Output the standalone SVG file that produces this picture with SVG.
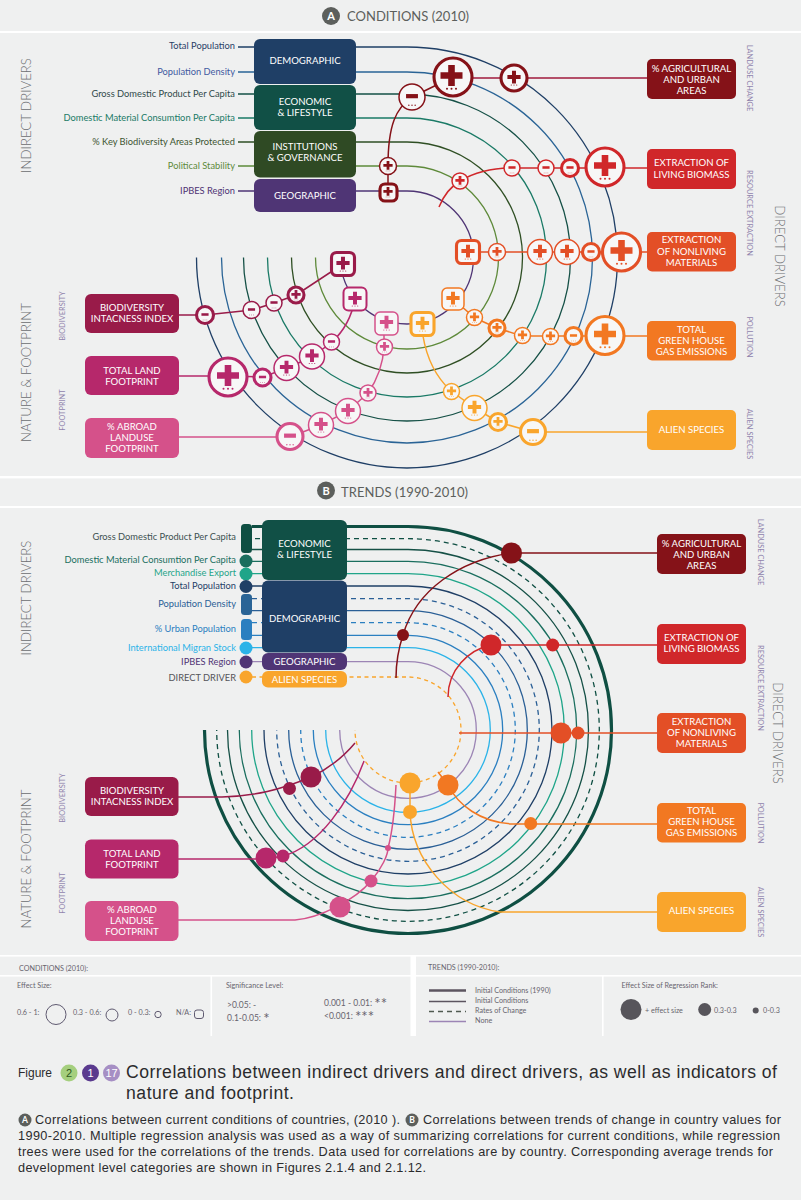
<svg xmlns="http://www.w3.org/2000/svg" width="801" height="1200" viewBox="0 0 801 1200">
<style>
text{font-family:Lato,"Open Sans","Liberation Sans",sans-serif}
.arc{fill:none;stroke-width:1.3}
.con{fill:none;stroke-width:1.5}
.box text{fill:#fff;font-size:9.6px;text-anchor:middle}
.lab{font-size:9.3px;text-anchor:end}
.side{font-size:13.2px;fill:#6b6d70;text-anchor:middle;font-weight:300}
.sm{font-size:7.4px;fill:#8f84ad;text-anchor:middle}
.leg{font-size:7.2px;fill:#67646e}
.sig{font-size:8.5px}
.ast{font-size:15px}
.cap{font-family:"Liberation Sans",Arial,sans-serif;fill:#2b2b2d}
.n circle.o,.n rect.o{fill:#f7f7f7;stroke:currentColor}
.n use{fill:currentColor}
.k1{stroke-width:1.5}.k2{stroke-width:2}.k3{stroke-width:3.1}
.c1{color:#851218}.c2{color:#d0272a}.c3{color:#e34f26}.c4{color:#f27822}.c5{color:#f9a52c}.c6{color:#991b49}.c7{color:#b6286b}.c8{color:#d5518a}
.white{fill:#fff}
</style>
<defs>
<g id="plus"><path d="M-3.3-12h6.6v7.2h7.7v6.600h-7.700v7.200h-6.600v-7.200h-7.700v-6.600h7.700z"/><circle cx="-4.500" cy="11.700" r="1"/><circle cy="11.700" r="1"/><circle cx="4.500" cy="11.700" r="1"/></g>
<g id="minus"><rect x="-8.500" y="-4.200" width="17" height="6"/><circle cx="-4.500" cy="11.700" r="1"/><circle cy="11.700" r="1"/><circle cx="4.500" cy="11.700" r="1"/></g>
</defs>
<rect width="801" height="1200" fill="#eff0f0"/>
<g id="frame" class="white">
<rect y="31" width="801" height="2"/><rect y="476" width="801" height="2.400"/><rect y="506" width="801" height="2"/>
<rect y="955" width="801" height="1.600"/><rect y="975" width="801" height="1.600"/><rect x="210.500" y="976" width="1.600" height="60"/><rect x="410.500" y="956" width="5.500" height="80"/><rect x="602" y="976" width="1.600" height="60"/>
</g>
<g id="titles">
<circle cx="331" cy="16" r="9" fill="#5c5f5c"/><text x="331" y="20" font-size="11" font-weight="700" fill="#fff" text-anchor="middle">A</text>
<text x="347" y="21" font-size="13" fill="#5c5f5c" textLength="122">CONDITIONS (2010)</text>
<circle cx="326" cy="490.500" r="9" fill="#5c5f5c"/><text x="326" y="494.500" font-size="11" font-weight="700" fill="#fff" text-anchor="middle">B</text>
<text x="341" y="497" font-size="13" fill="#5c5f5c" textLength="127">TRENDS (1990-2010)</text>
</g>
<g id="side-labels">
<text class="side" transform="translate(31,115.500) rotate(-90)">INDIRECT DRIVERS</text>
<text class="side" transform="translate(31,372.500) rotate(-90)">NATURE &amp; FOOTPRINT</text>
<text class="sm" transform="translate(65,316) rotate(-90)">BIODIVERSITY</text>
<text class="sm" transform="translate(65,410) rotate(-90)">FOOTPRINT</text>
<text class="sm" transform="translate(747,78) rotate(90)">LANDUSE CHANGE</text>
<text class="sm" transform="translate(747,213) rotate(90)">RESOURCE EXTRACTION</text>
<text class="sm" transform="translate(747,337) rotate(90)">POLLUTION</text>
<text class="sm" transform="translate(747,434) rotate(90)">ALIEN SPECIES</text>
<text class="side" transform="translate(775,256) rotate(90)">DIRECT DRIVERS</text>
<text class="side" transform="translate(31,598) rotate(-90)">INDIRECT DRIVERS</text>
<text class="side" transform="translate(31,859) rotate(-90)">NATURE &amp; FOOTPRINT</text>
<text class="sm" transform="translate(65,798) rotate(-90)">BIODIVERSITY</text>
<text class="sm" transform="translate(65,893) rotate(-90)">FOOTPRINT</text>
<text class="sm" transform="translate(758,552) rotate(90)">LANDUSE CHANGE</text>
<text class="sm" transform="translate(758,688) rotate(90)">RESOURCE EXTRACTION</text>
<text class="sm" transform="translate(758,823) rotate(90)">POLLUTION</text>
<text class="sm" transform="translate(758,912) rotate(90)">ALIEN SPECIES</text>
<text class="side" transform="translate(773,733) rotate(90)">DIRECT DRIVERS</text>
</g>
<g id="connectors">
<g id="rings-a" class="arc">
<path stroke="#1f3f66" d="M238,47H407A210.500 210.500 0 1 1 196.500,257.500"/>
<path stroke="#2a6496" d="M238,72H407A185.500 185.500 0 1 1 221.500,257.500"/>
<path stroke="#155046" d="M238,94H407A163.500 163.500 0 1 1 243.500,257.500"/>
<path stroke="#1a7a66" d="M238,118H407A139.500 139.500 0 1 1 267.500,257.500"/>
<path stroke="#2f4f24" d="M238,142H407A115.500 115.500 0 1 1 291.500,257.500"/>
<path stroke="#5e8a3a" d="M238,166H407A91.500 91.500 0 1 1 315.500,257.500"/>
<path stroke="#4f3575" d="M238,191H407A66.500 66.500 0 1 1 340.500,257.500"/>
</g>
<g id="links-a" class="con">
<path stroke="#a01a3c" d="M648,78H453"/>
<path stroke="#851218" d="M453,77L412,97C396,108 388,125 388,166V192"/>
<path stroke="#d0272a" d="M648,168H512C490,168 475,172 460,181C450,187 443,197 439,207"/>
<path stroke="#e34f26" d="M648,252H468"/>
<path stroke="#f27822" d="M648,336H550L522,336L497,328L475,318L453,299"/>
<path stroke="#f9a52c" d="M648,432H533L498,422L475,408L451,391C437,378 427,360 423,336"/>
<path stroke="#991b49" d="M179,315H205L252,310L274,303L296,295L343,264"/>
<path stroke="#b6286b" d="M179,376H228L263,377L287,368L312,357L332,342C345,330 352,315 355,299"/>
<path stroke="#d5518a" d="M179,437H290L321,425L348,411L368,393C377,380 383,365 384,347V323"/>
</g>
<g id="rings-b" class="arc">
<path stroke="#0f4f43" stroke-width="3.200" d="M252,526.500H408A203.500 203.500 0 1 1 204.500,730"/>
<path stroke="#0f4f43" stroke-dasharray="5 4" d="M255,538.700H408A191.300 191.300 0 1 1 216.700,730"/>
<path stroke="#155046" d="M252,549.500H408A180.500 180.500 0 1 1 227.500,730"/>
<path stroke="#1a6e5e" d="M252,561.300H408A168.700 168.700 0 1 1 239.300,730"/>
<path stroke="#1fa589" d="M252,573.700H408A156.300 156.300 0 1 1 251.700,730"/>
<path stroke="#1f3f66" d="M252,586H408A144 144 0 1 1 264,730"/>
<path stroke="#2a5f96" stroke-dasharray="5 4" d="M252,598.700H408A131.300 131.300 0 1 1 276.700,730"/>
<path stroke="#2a5f96" d="M252,610.700H408A119.300 119.300 0 1 1 288.700,730"/>
<path stroke="#2b7fc0" stroke-dasharray="5 4" d="M252,622.700H408A107.300 107.300 0 1 1 300.700,730"/>
<path stroke="#2b7fc0" d="M252,635.300H408A94.700 94.700 0 1 1 313.300,730"/>
<path stroke="#2bb3e8" d="M252,647.700H408A82.300 82.300 0 1 1 325.700,730"/>
<path stroke="#9c85b5" d="M252,661.700H408A68.300 68.300 0 1 1 339.700,730"/>
<path stroke="#f9a52c" stroke-dasharray="4 3.500" d="M252,677H408A53 53 0 1 1 355,730"/>
</g>
<g id="links-b" class="con">
<path stroke="#851218" d="M657,553H511C460,560 416,590 403,635C398,650 396,665 396,678"/>
<path stroke="#d0272a" d="M657,645H491C468,650 448,670 448,697"/>
<path stroke="#e34f26" d="M657,733H459"/>
<path stroke="#f27822" d="M657,824H512C480,822 458,805 448,785L438,772"/>
<path stroke="#f9a52c" d="M657,912H500C450,905 412,860 410,812V783"/>
<path stroke="#991b49" d="M178,797H222C255,796 280,790 311,777C330,768 345,755 355,743"/>
<path stroke="#b6286b" d="M178,859H266L283,856C320,846 350,800 364,761"/>
<path stroke="#d5518a" d="M178,920H295C320,918 355,900 371,881C382,868 388,855 388,848C393,830 395,805 396,785"/>
</g>
</g>
<g id="left-labels-a">
<text class="lab" x="235" y="49" fill="#2a3f66">Total Population</text>
<text class="lab" x="235" y="74.500" fill="#3f5aa0">Population Density</text>
<text class="lab" x="235" y="97" fill="#2f4a4a">Gross Domestic Product Per Capita</text>
<text class="lab" x="235" y="121" fill="#1a7a66">Domestic Material Consumtion Per Capita</text>
<text class="lab" x="235" y="145" fill="#3d5530">% Key Biodiversity Areas Protected</text>
<text class="lab" x="235" y="169" fill="#5e8a3a">Political Stability</text>
<text class="lab" x="235" y="194" fill="#4f3575">IPBES Region</text>
</g>
<g id="a-demographic" class="box"><rect x="254" y="39" width="102" height="45" rx="6" fill="#1f3f66"/><text x="305" y="64">DEMOGRAPHIC</text></g>
<g id="a-economic" class="box"><rect x="254" y="85" width="102" height="45" rx="6" fill="#115046"/><text x="305" y="104.500">ECONOMIC</text><text x="305" y="115.500">&amp; LIFESTYLE</text></g>
<g id="a-institutions" class="box"><rect x="254" y="131" width="102" height="46.500" rx="6" fill="#2f4a24"/><text x="305" y="150">INSTITUTIONS</text><text x="305" y="161">&amp; GOVERNANCE</text></g>
<g id="a-geographic" class="box"><rect x="254" y="179" width="102" height="33" rx="6" fill="#4f3575"/><text x="305" y="198.500">GEOGRAPHIC</text></g>
<g id="a-agri" class="box"><rect x="647" y="59" width="89" height="40" rx="5" fill="#851218"/><text x="691.500" y="72">% AGRICULTURAL</text><text x="691.500" y="83">AND URBAN</text><text x="691.500" y="94">AREAS</text></g>
<g id="a-living" class="box"><rect x="647" y="149" width="89" height="40" rx="5" fill="#d0272a"/><text x="691.500" y="166">EXTRACTION OF</text><text x="691.500" y="178">LIVING BIOMASS</text></g>
<g id="a-nonliving" class="box"><rect x="647" y="232" width="89" height="39.500" rx="5" fill="#e34f26"/><text x="691.500" y="243">EXTRACTION</text><text x="691.500" y="254.500">OF NONLIVING</text><text x="691.500" y="265.500">MATERIALS</text></g>
<g id="a-pollution" class="box"><rect x="647" y="321" width="89" height="39.500" rx="5" fill="#f27822"/><text x="691.500" y="333">TOTAL</text><text x="691.500" y="344">GREEN HOUSE</text><text x="691.500" y="355">GAS EMISSIONS</text></g>
<g id="a-alien" class="box"><rect x="647" y="410" width="89" height="40" rx="5" fill="#f9a52c"/><text x="691.500" y="432.500">ALIEN SPECIES</text></g>
<g id="a-bii" class="box"><rect x="85" y="294" width="94" height="39" rx="6" fill="#991b49"/><text x="132" y="311">BIODIVERSITY</text><text x="132" y="322">INTACNESS INDEX</text></g>
<g id="a-land" class="box"><rect x="85" y="356" width="94" height="39" rx="6" fill="#b6286b"/><text x="132" y="374">TOTAL LAND</text><text x="132" y="385">FOOTPRINT</text></g>
<g id="a-abroad" class="box"><rect x="85" y="418" width="94" height="40" rx="6" fill="#d5518a"/><text x="132" y="430">% ABROAD</text><text x="132" y="441">LANDUSE</text><text x="132" y="452">FOOTPRINT</text></g>
<g id="effects-a">
<g id="a1" class="n c1"><circle class="o k3" cx="453" cy="77" r="19"/><use href="#plus" transform="translate(451.500,77)"/></g>
<g id="a2" class="n c1"><circle class="o k3" cx="514" cy="78" r="13"/><use href="#plus" transform="translate(514,78) scale(.6)"/></g>
<g id="a3" class="n c1"><circle class="o k1" cx="412" cy="97" r="13"/><use href="#minus" transform="translate(412,97) scale(.7)"/></g>
<g id="a4" class="n c1"><circle class="o k1" cx="388" cy="166" r="8.500"/><use href="#plus" transform="translate(388,166) scale(.42)"/></g>
<g id="a5" class="n c1"><rect class="o k3" x="380" y="184" width="17" height="17" rx="5"/><use href="#plus" transform="translate(388,192) scale(.42)"/></g>
<g id="a6" class="n c2"><circle class="o k3" cx="605" cy="167" r="19"/><use href="#plus" transform="translate(605,167)"/></g>
<g id="a7" class="n c2"><circle class="o k3" cx="570" cy="168" r="8.500"/><use href="#minus" transform="translate(570,168) scale(.42)"/></g>
<g id="a8" class="n c2"><circle class="o k1" cx="546" cy="168" r="8"/><use href="#minus" transform="translate(546,168) scale(.42)"/></g>
<g id="a9" class="n c2"><circle class="o k1" cx="512" cy="168" r="8"/><use href="#minus" transform="translate(512,168) scale(.42)"/></g>
<g id="a10" class="n c2"><circle class="o k1" cx="460" cy="181" r="8"/><use href="#plus" transform="translate(460,181) scale(.42)"/></g>
<g id="a11" class="n c3"><circle class="o k3" cx="621.500" cy="252" r="19"/><use href="#plus" transform="translate(621.500,252)"/></g>
<g id="a12" class="n c3"><circle class="o k3" cx="591" cy="252" r="8.500"/><use href="#minus" transform="translate(591,252) scale(.42)"/></g>
<g id="a13" class="n c3"><circle class="o k1" cx="567" cy="252" r="12.500"/><use href="#plus" transform="translate(567,252) scale(.6)"/></g>
<g id="a14" class="n c3"><circle class="o k1" cx="540" cy="252" r="12.500"/><use href="#plus" transform="translate(540,252) scale(.6)"/></g>
<g id="a15" class="n c3"><circle class="o k1" cx="497" cy="252" r="8.500"/><use href="#plus" transform="translate(497,252) scale(.42)"/></g>
<g id="a16" class="n c3"><rect class="o k3" x="456.500" y="240.500" width="23" height="23" rx="5"/><use href="#plus" transform="translate(468,252) scale(.6)"/></g>
<g id="a17" class="n c4"><circle class="o k3" cx="605" cy="335.500" r="19"/><use href="#plus" transform="translate(605,335.500)"/></g>
<g id="a18" class="n c4"><circle class="o k3" cx="573.500" cy="336" r="8.500"/><use href="#minus" transform="translate(573.500,336) scale(.42)"/></g>
<g id="a19" class="n c4"><circle class="o k1" cx="550.500" cy="336.500" r="8"/><use href="#plus" transform="translate(550.500,336.500) scale(.42)"/></g>
<g id="a20" class="n c4"><circle class="o k1" cx="522.500" cy="335.500" r="8"/><use href="#plus" transform="translate(522.500,335.500) scale(.42)"/></g>
<g id="a21" class="n c4"><circle class="o k3" cx="497" cy="328" r="8"/><use href="#plus" transform="translate(497,328) scale(.42)"/></g>
<g id="a22" class="n c4"><circle class="o k1" cx="474.500" cy="317.500" r="8"/><use href="#plus" transform="translate(474.500,317.500) scale(.42)"/></g>
<g id="a23" class="n c4"><rect class="o k1" x="442" y="288" width="22" height="22" rx="5"/><use href="#plus" transform="translate(453,299) scale(.6)"/></g>
<g id="a24" class="n c5"><rect class="o k3" x="411" y="312.500" width="23" height="23" rx="5"/><use href="#plus" transform="translate(422.500,324) scale(.6)"/></g>
<g id="a25" class="n c5"><circle class="o k3" cx="533" cy="432" r="12.500"/><use href="#minus" transform="translate(533,432) scale(.7)"/></g>
<g id="a26" class="n c5"><circle class="o k3" cx="498" cy="422" r="8.500"/><use href="#plus" transform="translate(498,422) scale(.42)"/></g>
<g id="a27" class="n c5"><circle class="o k1" cx="474.500" cy="408" r="12.500"/><use href="#plus" transform="translate(474.500,408) scale(.6)"/></g>
<g id="a28" class="n c5"><circle class="o k1" cx="451.500" cy="391.500" r="8"/><use href="#plus" transform="translate(451.500,391.500) scale(.42)"/></g>
<g id="a29" class="n c6"><circle class="o k3" cx="205" cy="315" r="8.500"/><use href="#minus" transform="translate(205,315) scale(.42)"/></g>
<g id="a30" class="n c6"><circle class="o k1" cx="251.500" cy="310" r="8.500"/><use href="#minus" transform="translate(251.500,310) scale(.42)"/></g>
<g id="a31" class="n c6"><circle class="o k1" cx="274" cy="303" r="8"/><use href="#minus" transform="translate(274,303) scale(.42)"/></g>
<g id="a32" class="n c6"><circle class="o k3" cx="296" cy="295" r="8"/><use href="#plus" transform="translate(296,295) scale(.42)"/></g>
<g id="a33" class="n c6"><rect class="o k3" x="331.500" y="252.500" width="23" height="23" rx="5"/><use href="#plus" transform="translate(343,264) scale(.6)"/></g>
<g id="a34" class="n c7"><circle class="o k3" cx="228" cy="377" r="19"/><use href="#plus" transform="translate(228,377)"/></g>
<g id="a35" class="n c7"><circle class="o k3" cx="262.500" cy="377.500" r="8.500"/><use href="#minus" transform="translate(262.500,377.500) scale(.42)"/></g>
<g id="a36" class="n c7"><circle class="o k1" cx="286.500" cy="368" r="12.500"/><use href="#plus" transform="translate(286.500,368) scale(.6)"/></g>
<g id="a37" class="n c7"><circle class="o k1" cx="312" cy="356.500" r="12.500"/><use href="#plus" transform="translate(312,356.500) scale(.6)"/></g>
<g id="a38" class="n c7"><circle class="o k1" cx="331.500" cy="342" r="8"/><use href="#minus" transform="translate(331.500,342) scale(.42)"/></g>
<g id="a39" class="n c7"><rect class="o k2" x="343.500" y="287.500" width="23" height="23" rx="5"/><use href="#plus" transform="translate(355,299) scale(.6)"/></g>
<g id="a40" class="n c8"><circle class="o k3" cx="290" cy="436.500" r="13"/><use href="#minus" transform="translate(290,436.500) scale(.7)"/></g>
<g id="a41" class="n c8"><circle class="o k1" cx="321" cy="425" r="12.500"/><use href="#plus" transform="translate(321,425) scale(.6)"/></g>
<g id="a42" class="n c8"><circle class="o k1" cx="348" cy="411" r="12.500"/><use href="#plus" transform="translate(348,411) scale(.6)"/></g>
<g id="a43" class="n c8"><circle class="o k1" cx="368" cy="393" r="8"/><use href="#plus" transform="translate(368,393) scale(.42)"/></g>
<g id="a44" class="n c8"><circle class="o k1" cx="384.500" cy="347" r="8"/><use href="#plus" transform="translate(384.500,347) scale(.42)"/></g>
<g id="a45" class="n c8"><rect class="o k1" x="375" y="312" width="23" height="23" rx="5"/><use href="#plus" transform="translate(386.500,323) scale(.6)"/></g>
</g>
<g id="left-labels-b">
<text class="lab" x="236" y="540" fill="#3d5050">Gross Domestic Product Per Capita</text>
<text class="lab" x="236" y="563" fill="#1a6e5e">Domestic Material Consumtion Per Capita</text>
<text class="lab" x="236" y="576" fill="#1fa589">Merchandise Export</text>
<text class="lab" x="236" y="589" fill="#1f3f66">Total Population</text>
<text class="lab" x="236" y="607" fill="#2a5f96">Population Density</text>
<text class="lab" x="236" y="632" fill="#2b7fc0">% Urban Population</text>
<text class="lab" x="236" y="650.500" fill="#2bb3e8">International Migran Stock</text>
<text class="lab" x="236" y="665" fill="#4f3575">IPBES Region</text>
<text class="lab" x="236" y="681" fill="#55555a">DIRECT DRIVER</text>
</g>
<g id="stems-b">
<rect x="241" y="524" width="11" height="29" rx="3.500" fill="#0f4f43"/>
<circle cx="246" cy="561" r="6.500" fill="#1a6e5e"/>
<circle cx="246" cy="574" r="6.500" fill="#1fa589"/>
<circle cx="246" cy="586.500" r="6.500" fill="#1f3f66"/>
<rect x="241" y="594" width="11" height="21" rx="3.500" fill="#2a6496"/>
<rect x="241" y="619" width="11" height="21" rx="3.500" fill="#2b7fc0"/>
<circle cx="246" cy="648" r="6.500" fill="#2bb3e8"/>
<circle cx="246" cy="662" r="6.500" fill="#4f3575"/>
<circle cx="246" cy="677" r="6.500" fill="#f9a52c"/>
</g>
<g id="b-economic" class="box"><rect x="262" y="520" width="85" height="60" rx="6" fill="#115046"/><text x="304.500" y="547">ECONOMIC</text><text x="304.500" y="558">&amp; LIFESTYLE</text></g>
<g id="b-demographic" class="box"><rect x="262" y="580.500" width="85" height="72" rx="6" fill="#1f3f66"/><text x="304.500" y="622">DEMOGRAPHIC</text></g>
<g id="b-geographic" class="box"><rect x="262" y="653" width="85" height="17" rx="6" fill="#4f3575"/><text x="304.500" y="665">GEOGRAPHIC</text></g>
<g id="b-alien" class="box"><rect x="262" y="671" width="85" height="16.500" rx="6" fill="#f9a52c"/><text x="304.500" y="682.500">ALIEN SPECIES</text></g>
<g id="b-agri" class="box"><rect x="657" y="534" width="89" height="40" rx="5" fill="#851218"/><text x="701.500" y="547">% AGRICULTURAL</text><text x="701.500" y="558">AND URBAN</text><text x="701.500" y="569">AREAS</text></g>
<g id="b-living" class="box"><rect x="657" y="624" width="89" height="40" rx="5" fill="#d0272a"/><text x="701.500" y="641">EXTRACTION OF</text><text x="701.500" y="652">LIVING BIOMASS</text></g>
<g id="b-nonliving" class="box"><rect x="657" y="713" width="89" height="40" rx="5" fill="#e34f26"/><text x="701.500" y="725">EXTRACTION</text><text x="701.500" y="736">OF NONLIVING</text><text x="701.500" y="747">MATERIALS</text></g>
<g id="b-pollution" class="box"><rect x="657" y="803" width="89" height="39.500" rx="5" fill="#f27822"/><text x="701.500" y="814">TOTAL</text><text x="701.500" y="825">GREEN HOUSE</text><text x="701.500" y="836">GAS EMISSIONS</text></g>
<g id="b-alien2" class="box"><rect x="657" y="892" width="89" height="40" rx="5" fill="#f9a52c"/><text x="701.500" y="914">ALIEN SPECIES</text></g>
<g id="b-bii" class="box"><rect x="85" y="777" width="93.500" height="39" rx="6" fill="#991b49"/><text x="132" y="794">BIODIVERSITY</text><text x="132" y="805">INTACNESS INDEX</text></g>
<g id="b-land" class="box"><rect x="85" y="839.500" width="93.500" height="39" rx="6" fill="#b6286b"/><text x="132" y="857">TOTAL LAND</text><text x="132" y="868">FOOTPRINT</text></g>
<g id="b-abroad" class="box"><rect x="85" y="901" width="93.500" height="40" rx="6" fill="#d5518a"/><text x="132" y="913">% ABROAD</text><text x="132" y="924">LANDUSE</text><text x="132" y="935">FOOTPRINT</text></g>
<g id="effects-b">
<circle cx="511.500" cy="553" r="10.500" fill="#851218"/><circle cx="403" cy="635" r="6" fill="#851218"/>
<circle cx="491" cy="645" r="10.500" fill="#d0272a"/><circle cx="552.700" cy="645" r="6.500" fill="#d0272a"/>
<circle cx="561" cy="733" r="10.500" fill="#e34f26"/><circle cx="578" cy="733" r="6.500" fill="#e34f26"/>
<circle cx="448" cy="785" r="10.500" fill="#f27822"/><circle cx="530.700" cy="823.500" r="6.500" fill="#f27822"/>
<circle cx="410" cy="783" r="10.500" fill="#f9a52c"/><circle cx="410" cy="812" r="7" fill="#f9a52c"/>
<circle cx="311" cy="777" r="10.500" fill="#991b49"/><circle cx="289.500" cy="788.500" r="6.500" fill="#991b49"/>
<circle cx="266" cy="858" r="10.500" fill="#b6286b"/><circle cx="283" cy="856" r="6.500" fill="#b6286b"/>
<circle cx="340" cy="907" r="10.500" fill="#d5518a"/><circle cx="371" cy="881" r="6.500" fill="#d5518a"/><circle cx="388" cy="848" r="3" fill="#d5518a"/>
</g>
<g id="legend">
<text class="leg" x="19" y="971">CONDITIONS (2010):</text>
<text class="leg" x="17" y="988">Effect Size:</text>
<text class="leg" x="17" y="1015">0.6 - 1:</text><circle cx="56" cy="1014.500" r="10" fill="none" stroke="#5f5a70"/>
<text class="leg" x="73" y="1015">0.3 - 0.6:</text><circle cx="112" cy="1015" r="6" fill="none" stroke="#5f5a70"/>
<text class="leg" x="128" y="1015">0 - 0.3:</text><circle cx="158" cy="1014.500" r="3.200" fill="none" stroke="#5f5a70"/>
<text class="leg" x="176" y="1015">N/A:</text><rect x="194.500" y="1010" width="9" height="8.500" rx="2.500" fill="none" stroke="#5f5a70"/>
<text class="leg" x="226" y="988">Significance Level:</text>
<text class="leg sig" x="227" y="1008">&gt;0.05:  -</text>
<text class="leg sig" x="227" y="1021">0.1-0.05: <tspan class="ast" dy="3">*</tspan></text>
<text class="leg sig" x="324" y="1006">0.001 - 0.01: <tspan class="ast" dy="3">**</tspan></text>
<text class="leg sig" x="324" y="1019">&lt;0.001: <tspan class="ast" dy="3">***</tspan></text>
<text class="leg" x="428" y="970">TRENDS (1990-2010):</text>
<path d="M429,990.500H466" stroke="#5c5560" stroke-width="2.500"/>
<path d="M429,1001.500H466" stroke="#5c5560" stroke-width="1.500"/>
<path d="M429,1011.500H466" stroke="#4f5a50" stroke-width="1.300" stroke-dasharray="5 4"/>
<path d="M429,1021.500H466" stroke="#9c85b5" stroke-width="1.500"/>
<text class="leg" x="475" y="992.500">Initial Conditions (1990)</text>
<text class="leg" x="475" y="1002.500">Initial Conditions</text>
<text class="leg" x="475" y="1012.500">Rates of Change</text>
<text class="leg" x="475" y="1023">None</text>
<text class="leg" x="621.500" y="988">Effect Size of Regression Rank:</text>
<circle cx="631" cy="1009.500" r="10.500" fill="#57555b"/><text class="leg" x="645" y="1012.500">+ effect size</text>
<circle cx="704.700" cy="1009.500" r="6.500" fill="#57555b"/><text class="leg" x="714" y="1012.500">0.3-0.3</text>
<circle cx="755.700" cy="1010.500" r="3" fill="#57555b"/><text class="leg" x="763" y="1012.500">0-0.3</text>
</g>
<g id="caption">
<text class="cap" x="18" y="1077" font-size="12">Figure</text>
<circle cx="69" cy="1073" r="8.500" fill="#a5cf7e"/><text class="cap" x="69" y="1077" font-size="11" text-anchor="middle" style="fill:#2f5a20">2</text>
<circle cx="90.500" cy="1073" r="8.500" fill="#5a3a8e"/><text class="cap" x="90.500" y="1077" font-size="11" text-anchor="middle" style="fill:#fff">1</text>
<circle cx="111.500" cy="1073" r="8.500" fill="#a68fc4"/><text class="cap" x="111.500" y="1077" font-size="11" text-anchor="middle" style="fill:#fff">17</text>
<text class="cap" x="126" y="1078" font-size="17.600" textLength="651">Correlations between indirect drivers and direct drivers, as well as indicators of</text>
<text class="cap" x="126" y="1099" font-size="17.600" textLength="168">nature and footprint.</text>
<circle cx="25" cy="1120" r="6.500" fill="#5c5f5c"/><text x="25" y="1123" font-size="8.500" fill="#fff" text-anchor="middle" font-weight="700">A</text>
<text class="cap" x="35" y="1124" font-size="12.700" textLength="365">Correlations between current conditions of countries, (2010 ).</text>
<circle cx="412" cy="1120" r="6.500" fill="#5c5f5c"/><text x="412" y="1123" font-size="8.500" fill="#fff" text-anchor="middle" font-weight="700">B</text>
<text class="cap" x="423" y="1124" font-size="12.700" textLength="358">Correlations between trends of change in country values for</text>
<text class="cap" x="18" y="1140" font-size="12.700" textLength="762">1990-2010. Multiple regression analysis was used as a way of summarizing correlations for current conditions, while regression</text>
<text class="cap" x="18" y="1156" font-size="12.700" textLength="755">trees were used for the correlations of the trends. Data used for correlations are by country. Corresponding average trends for</text>
<text class="cap" x="18" y="1172" font-size="12.700" textLength="408">development level categories are shown in Figures 2.1.4 and 2.1.12.</text>
</g>
</svg>
